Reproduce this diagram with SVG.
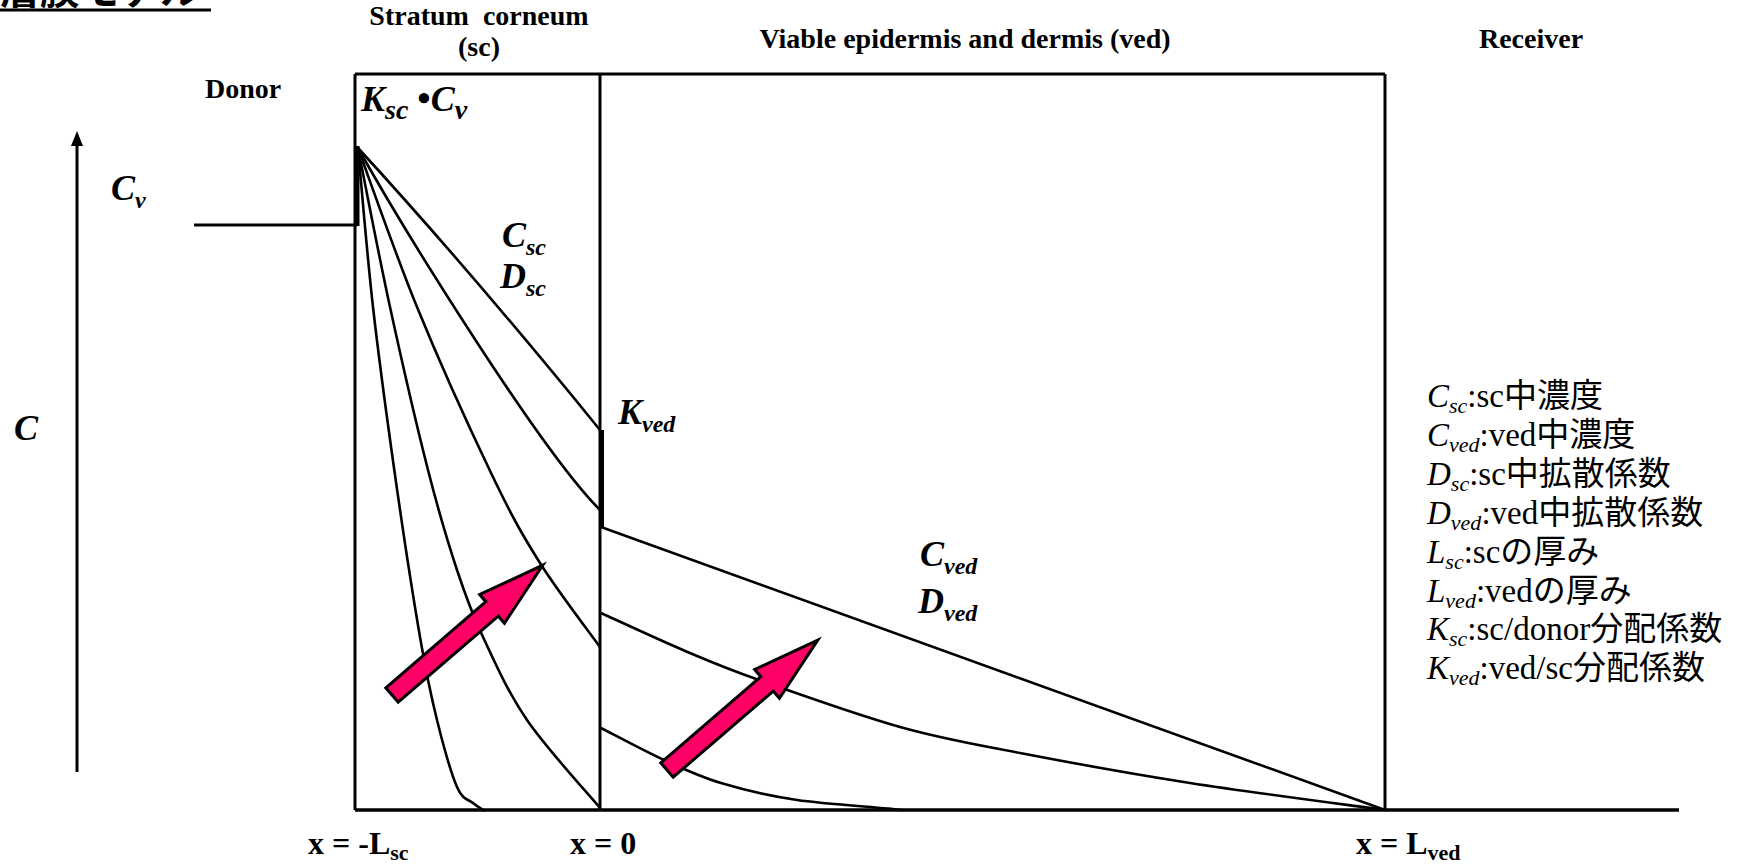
<svg xmlns="http://www.w3.org/2000/svg" xmlns:xlink="http://www.w3.org/1999/xlink" width="1740" height="866" viewBox="0 0 1740 866">
<style>
.ln{fill:none;stroke:#000;stroke-width:3;stroke-linecap:butt}
.cv{fill:none;stroke:#000;stroke-width:2.6}
.hd{font-family:"Liberation Serif","Times New Roman",serif;font-weight:bold;font-size:28px;fill:#000}
.mb{font-family:"Liberation Serif","Times New Roman",serif;font-weight:bold;font-style:italic;font-size:36px;fill:#000}
.xl{font-family:"Liberation Serif","Times New Roman",serif;font-weight:bold;font-size:32px;fill:#000}
.lg{font-family:"Liberation Serif","Noto Sans CJK JP",serif;font-size:33px;fill:#000}
.it{font-style:italic}
.ttl{font-family:"Noto Sans CJK JP",sans-serif;font-weight:bold;font-size:40px;fill:#000}
</style>
<defs>
<path id="bigArrow" d="M0,-9.5 H132 V-19 L199,0 L132,19 V9.5 H0 Z" fill="#FF0066" stroke="#000" stroke-width="3" stroke-linejoin="miter"/>
</defs>
<rect width="1740" height="866" fill="#fff"/>

<g id="title">
<text class="ttl" x="0" y="4">層膜モデル</text>
<line x1="0" y1="10" x2="211" y2="10" stroke="#000" stroke-width="3"/>
</g>

<g id="layer-labels">
<text class="hd" x="479" y="25" text-anchor="middle" xml:space="preserve">Stratum  corneum</text>
<text class="hd" x="479" y="56" text-anchor="middle">(sc)</text>
<text class="hd" x="965" y="48" text-anchor="middle">Viable epidermis and dermis (ved)</text>
<text class="hd" x="1531" y="48" text-anchor="middle">Receiver</text>
<text class="hd" x="205" y="98">Donor</text>
</g>

<g id="axis">
<line class="ln" x1="77" y1="772" x2="77" y2="142"/>
<polygon points="77,131 71,146 83,146" fill="#000"/>
<text class="mb" x="14" y="440" font-size="37">C</text>
</g>

<g id="donor">
<line class="ln" x1="194" y1="225" x2="357" y2="225"/>
<text class="mb" x="111" y="200">C<tspan font-size="24" dy="8">v</tspan></text>
</g>

<g id="sc-layer">
<line class="ln" x1="355" y1="74" x2="600" y2="74"/>
<line class="ln" x1="355" y1="74" x2="355" y2="810"/>
<line x1="357" y1="146" x2="357" y2="226" stroke="#000" stroke-width="5"/>
<text class="mb" x="361" y="111" font-size="42">K<tspan font-size="28" dy="8">sc</tspan><tspan dy="-8" dx="9" font-style="normal" font-size="38">•</tspan>C<tspan font-size="28" dy="8">v</tspan></text>
<text class="mb" x="502" y="247">C<tspan font-size="24" dy="8">sc</tspan></text>
<text class="mb" x="500" y="288">D<tspan font-size="24" dy="8">sc</tspan></text>
</g>

<g id="ved-layer">
<line class="ln" x1="600" y1="74" x2="1385" y2="74"/>
<line class="ln" x1="600" y1="74" x2="600" y2="810"/>
<line x1="602" y1="430" x2="602" y2="528" stroke="#000" stroke-width="4"/>
<text class="mb" x="618" y="424">K<tspan font-size="24" dy="8">ved</tspan></text>
<text class="mb" x="920" y="566">C<tspan font-size="24" dy="8">ved</tspan></text>
<text class="mb" x="918" y="613">D<tspan font-size="24" dy="8">ved</tspan></text>
</g>

<g id="receiver">
<line class="ln" x1="1385" y1="74" x2="1385" y2="810"/>
<line x1="355" y1="810" x2="1679" y2="810" stroke="#000" stroke-width="3.5"/>
</g>

<g id="x-labels">
<text class="xl" x="308" y="854">x = -L<tspan font-size="22" dy="6">sc</tspan></text>
<text class="xl" x="570" y="854">x = 0</text>
<text class="xl" x="1356" y="854">x = L<tspan font-size="22" dy="6">ved</tspan></text>
</g>

<g id="legend">
<text class="lg" x="1427" y="407"><tspan class="it">C</tspan><tspan class="it" font-size="22" dy="6">sc</tspan><tspan dy="-6">:sc中濃度</tspan></text>
<text class="lg" x="1427" y="446"><tspan class="it">C</tspan><tspan class="it" font-size="22" dy="6">ved</tspan><tspan dy="-6">:ved中濃度</tspan></text>
<text class="lg" x="1427" y="485"><tspan class="it">D</tspan><tspan class="it" font-size="22" dy="6">sc</tspan><tspan dy="-6">:sc中拡散係数</tspan></text>
<text class="lg" x="1427" y="524"><tspan class="it">D</tspan><tspan class="it" font-size="22" dy="6">ved</tspan><tspan dy="-6">:ved中拡散係数</tspan></text>
<text class="lg" x="1427" y="563"><tspan class="it">L</tspan><tspan class="it" font-size="22" dy="6">sc</tspan><tspan dy="-6">:scの厚み</tspan></text>
<text class="lg" x="1427" y="602"><tspan class="it">L</tspan><tspan class="it" font-size="22" dy="6">ved</tspan><tspan dy="-6">:vedの厚み</tspan></text>
<text class="lg" x="1427" y="640"><tspan class="it">K</tspan><tspan class="it" font-size="22" dy="6">sc</tspan><tspan dy="-6">:sc/donor分配係数</tspan></text>
<text class="lg" x="1427" y="679"><tspan class="it">K</tspan><tspan class="it" font-size="22" dy="6">ved</tspan><tspan dy="-6">:ved/sc分配係数</tspan></text>
</g>

<g id="connectors">
<g id="sc-profiles">
<path class="cv" d="M358,148 Q470,270 600,430"/>
<path class="cv" d="M358,148 C405,232 540,450 600,510"/>
<path class="cv" d="M358,148 C367.8,174.5 394.7,252.5 417,307 C439.3,361.5 471.5,432.3 492,475 C512.5,517.7 522,534.3 540,563 C558,591.7 590,633 600,647"/>
<path class="cv" d="M358,148 C363.3,174.5 378.3,253.3 390,307 C401.7,360.7 416.8,426.2 428,470 C439.2,513.8 447.8,542.2 457,570 C466.2,597.8 471.3,612 483,637 C494.7,662 507.5,691.5 527,720 C546.5,748.5 587.8,793.3 600,808"/>
<path class="cv" d="M358,148 C360.5,174.5 366.8,252.5 373,307 C379.2,361.5 387.2,420 395,475 C402.8,530 413,596.2 420,637 C427,677.8 430.8,695 437,720 C443.2,745 451,773.2 457,787 C463,800.8 468.3,799 473,803 C477.7,807 483,809.7 485,811"/>
</g>
<g id="ved-profiles">
<path class="cv" d="M601,527 L1385,810"/>
<path class="cv" d="M601,613 C614.7,619.2 656.7,638.8 683,650 C709.3,661.2 722.8,667.2 759,680 C795.2,692.8 856.5,714.8 900,727 C943.5,739.2 971.7,743.7 1020,753 C1068.3,762.3 1129.2,773.5 1190,783 C1250.8,792.5 1352.5,805.5 1385,810"/>
<path class="cv" d="M601,728 C611.5,733.3 644,750.8 664,760 C684,769.2 698.8,776.3 721,783 C743.2,789.7 767.2,795.7 797,800 C826.8,804.3 882.8,807.5 902,810"/>
</g>
<g id="flux-arrows">
<use xlink:href="#bigArrow" transform="translate(392,695) rotate(-40.73)"/>
<use xlink:href="#bigArrow" transform="translate(667,770) rotate(-40.73)"/>
</g>
</g>
</svg>
